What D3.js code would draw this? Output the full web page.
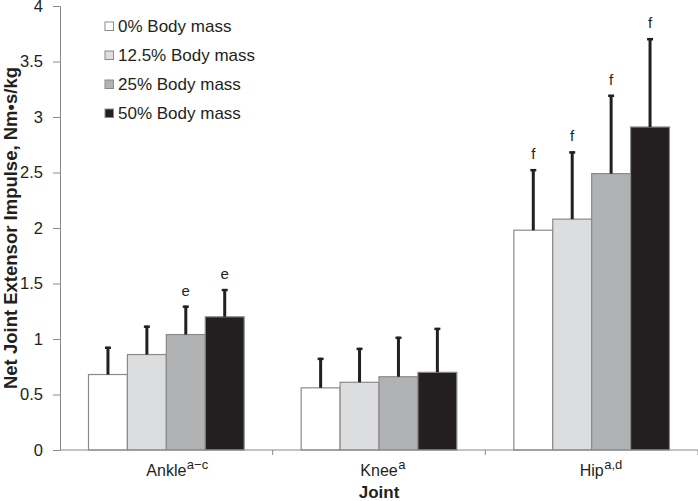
<!DOCTYPE html>
<html>
<head>
<meta charset="utf-8">
<script src="https://cdn.jsdelivr.net/npm/d3@7"></script>
<style>
  body { margin: 0; background: #fff; }
  svg text { font-family: "Liberation Sans", Arial, sans-serif; fill: #231f20; }
</style>
</head>
<body>
<svg id="chart" width="698" height="501"></svg>
<script>
// ─── Data ─────────────────────────────────────────────────────────────────────

const joints    = ["Ankle", "Knee", "Hip"];
const jointSups = ["a\u2212c", "a", "a,d"];
const series    = ["0% Body mass", "12.5% Body mass", "25% Body mass", "50% Body mass"];
const colors    = ["#ffffff", "#dcdddf", "#b1b2b4", "#231f20"];

// means and upper error-bar tips, one array per load
const means = [
  [0.68, 0.56, 1.98],
  [0.86, 0.61, 2.08],
  [1.04, 0.66, 2.49],
  [1.20, 0.70, 2.91],
];
const errTops = [
  [0.93, 0.83, 2.53],
  [1.12, 0.92, 2.69],
  [1.30, 1.02, 3.20],
  [1.45, 1.10, 3.71],
];
const marks = [
  ["", "", "f"],
  ["", "", "f"],
  ["e", "", "f"],
  ["e", "", "f"],
];
const yTicks = [0, 0.5, 1, 1.5, 2, 2.5, 3, 3.5, 4];

// ─── Layout ───────────────────────────────────────────────────────────────────

const margin = { left: 60, right: 0, top: 6, bottom: 51 };
const W = 698, H = 501;
const svg = d3.select("#chart");

const x0 = d3.scaleBand().domain(joints)
  .range([margin.left, W - margin.right]).paddingInner(0).paddingOuter(0);
const x1 = d3.scaleBand().domain(d3.range(series.length))
  .range([28.5, x0.bandwidth() - 28.5]).padding(0);
const y = d3.scaleLinear().domain([0, 4]).range([H - margin.bottom, margin.top]);

// ─── Axes ─────────────────────────────────────────────────────────────────────

const yAxis = svg.append("g")
  .attr("transform", `translate(${margin.left},0)`)
  .call(d3.axisLeft(y).tickValues(yTicks).tickSize(7).tickPadding(10)
    .tickFormat(d => d3.format("~g")(d)));
yAxis.select(".domain").attr("stroke", "#8a8a8a");
yAxis.selectAll(".tick line").attr("stroke", "#8a8a8a");
yAxis.selectAll(".tick text").attr("font-size", 16.5).attr("fill", "#231f20");

// bars
joints.forEach((j, ji) => {
  const g = svg.append("g").attr("transform", `translate(${x0(j)},0)`);
  series.forEach((s, si) => {
    g.append("rect")
      .attr("x", x1(si))
      .attr("y", y(means[si][ji]))
      .attr("width", x1.bandwidth())
      .attr("height", y(0) - y(means[si][ji]))
      .attr("fill", colors[si])
      .attr("stroke", "#8a8a8a")
      .attr("stroke-width", 1.2);

    const cx = x1(si) + x1.bandwidth() / 2;
    g.append("line")
      .attr("x1", cx).attr("x2", cx)
      .attr("y1", y(means[si][ji])).attr("y2", y(errTops[si][ji]))
      .attr("stroke", "#231f20").attr("stroke-width", 3);
    g.append("line")
      .attr("x1", cx - 3).attr("x2", cx + 3)
      .attr("y1", y(errTops[si][ji]) + 1).attr("y2", y(errTops[si][ji]) + 1)
      .attr("stroke", "#231f20").attr("stroke-width", 2.5);

    if (marks[si][ji]) {
      g.append("text")
        .attr("x", cx).attr("y", y(errTops[si][ji]) - 10)
        .attr("text-anchor", "middle").attr("font-size", 15)
        .text(marks[si][ji]);
    }
  });
});

// x axis
const xAxis = svg.append("g").attr("transform", `translate(0,${y(0)})`);
xAxis.append("line")
  .attr("x1", margin.left).attr("x2", W - margin.right)
  .attr("stroke", "#8a8a8a").attr("stroke-width", 1.2);
joints.forEach(j => {
  xAxis.append("line")
    .attr("x1", x0(j) + x0.bandwidth()).attr("x2", x0(j) + x0.bandwidth())
    .attr("y1", 0).attr("y2", 5).attr("stroke", "#8a8a8a");
});
// base word centred on the band, superscript hangs to the right
joints.forEach((j, ji) => {
  const cx = x0(j) + x0.bandwidth() / 2;
  const base = xAxis.append("text")
    .attr("x", cx).attr("y", 26)
    .attr("text-anchor", "middle").attr("font-size", 16)
    .text(j);
  const bw = base.node().getComputedTextLength();
  xAxis.append("text")
    .attr("x", cx + bw / 2 + 0.5).attr("y", 19)
    .attr("font-size", 13)
    .text(jointSups[ji]);
});

// axis titles
svg.append("text")
  .attr("x", (margin.left + W - margin.right) / 2).attr("y", 498)
  .attr("text-anchor", "middle").attr("font-size", 17).attr("font-weight", "bold")
  .text("Joint");
svg.append("text")
  .attr("transform", `translate(16.5,${(y(0) + y(4)) / 2}) rotate(-90)`)
  .attr("text-anchor", "middle").attr("font-size", 18.5).attr("font-weight", "bold")
  .text("Net Joint Extensor Impulse, Nm\u2022s/kg");

// ─── Legend ───────────────────────────────────────────────────────────────────

const legend = svg.append("g").attr("transform", "translate(105,26)");
series.forEach((s, i) => {
  const row = legend.append("g").attr("transform", `translate(0,${i * 29})`);
  row.append("rect").attr("x", 0).attr("y", -4).attr("width", 8.5).attr("height", 8.5)
    .attr("fill", colors[i]).attr("stroke", "#8a8a8a");
  row.append("text").attr("x", 13).attr("y", 6).attr("font-size", 17).text(s);
});
</script>
</body>
</html>
